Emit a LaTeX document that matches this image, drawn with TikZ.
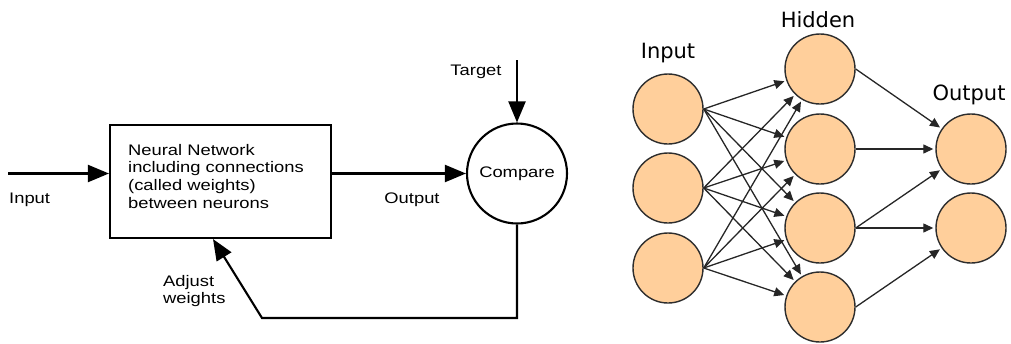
\documentclass[tikz,border=0pt]{standalone}
\usepackage{fontspec}
\usetikzlibrary{arrows.meta}
\newfontfamily\blockfont[FakeStretch=1.2]{Liberation Sans}
\newfontfamily\netfont{DejaVu Sans}
\definecolor{neuronfill}{RGB}{255,207,155}
\definecolor{neuronline}{RGB}{45,45,45}

\begin{document}
\begin{tikzpicture}[x=1pt, y=-1pt,
  font=\blockfont\fontsize{15.3}{17.7}\selectfont,
  bigarrow/.style={line width=2.1pt, -{Triangle[length=21pt, width=17pt]}},
  neuron/.style={circle, draw=neuronline, line width=1.4pt, fill=neuronfill, minimum size=70pt, inner sep=0pt},
  link/.style={line width=1.3pt, draw=black!85, -{Triangle[length=10pt, width=9pt]}, shorten >=2pt},
  layername/.style={font=\netfont\fontsize{21}{24}\selectfont, anchor=base}]
  \useasboundingbox (0,0) rectangle (1011,343);

  % left: training loop
  \node[draw, rectangle, line width=2.1pt, minimum width=221pt, minimum height=113pt] (nn) at (220.5,181.5) {};
  \node[anchor=north west, align=left, inner sep=0pt] (nntext) at (128,143.8)
  {Neural Network\\
   including connections\\
   (called weights)\\
   between neurons};

  \node[draw, circle, line width=2.1pt, minimum size=100pt, inner sep=0pt] (cmp) at (517,173.5) {Compare};

  \coordinate (inL) at (8,173.5);
  \coordinate (tgt) at (517,60);
  \coordinate (fbdown) at (517,318);
  \coordinate (fbturn) at (262,318);

  \node[anchor=base west, inner sep=0pt] (inlabel) at (9,203) {Input};
  \node[anchor=base, inner sep=0pt] (outlabel) at (412,203) {Output};
  \node[anchor=base, inner sep=0pt] (tgtlabel) at (476,75) {Target};
  \node[anchor=north west, align=left, inner sep=0pt] (adjlabel) at (163,275)
  {Adjust\\weights};

  \draw[bigarrow] (inL) -- (inL -| nn.west);
  \draw[bigarrow] (nn.east |- cmp) -- (cmp.west);
  \draw[bigarrow] (tgt) -- (cmp.north);
  \draw[bigarrow] (cmp.south) -- (fbdown) -- (fbturn) -- ([xshift=-7.5pt]nn.south);

  % right: layered network
  \node[layername] (inname) at (668,58) {Input};
  \node[layername] (hidname) at (818,27) {Hidden};
  \node[layername] (outname) at (969,100) {Output};

  \node[neuron] (in1) at (668,109) {};
  \node[neuron] (in2) at (668,188) {};
  \node[neuron] (in3) at (668,268) {};

  \node[neuron] (hid1) at (820,69) {};
  \node[neuron] (hid2) at (820,149) {};
  \node[neuron] (hid3) at (820,228) {};
  \node[neuron] (hid4) at (820,307) {};

  \node[neuron] (out1) at (971,149) {};
  \node[neuron] (out2) at (971,228) {};

  \draw[link] (in1.east) -- (hid1);
  \draw[link] (in1.east) -- (hid2);
  \draw[link] (in1.east) -- (hid3);
  \draw[link] (in1.east) -- (hid4);
  \draw[link] (in2.east) -- (hid1);
  \draw[link] (in2.east) -- (hid2);
  \draw[link] (in2.east) -- (hid3);
  \draw[link] (in2.east) -- (hid4);
  \draw[link] (in3.east) -- (hid1);
  \draw[link] (in3.east) -- (hid2);
  \draw[link] (in3.east) -- (hid3);
  \draw[link] (in3.east) -- (hid4);

  \draw[link] (hid1.east) -- (out1);
  \draw[link] (hid2.east) -- (out1);
  \draw[link] (hid3.east) -- (out1);
  \draw[link] (hid3.east) -- (out2);
  \draw[link] (hid4.east) -- (out2);
\end{tikzpicture}
\end{document}
